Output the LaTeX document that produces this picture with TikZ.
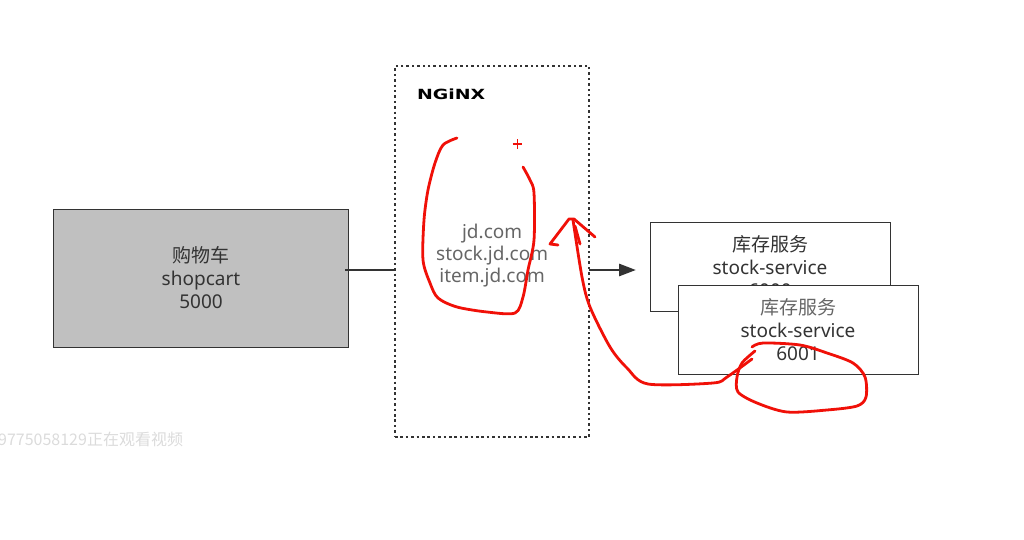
\documentclass[tikz,border=0pt]{standalone}
\usepackage{fontspec}
\setmainfont{Noto Sans}
\newfontfamily\cjk{Noto Sans CJK SC}
\newfontfamily\logofont[FakeStretch=1.35]{DejaVu Sans}
\usetikzlibrary{
  arrows.meta,
  calc,
  positioning,
}
\definecolor{inkgray}{HTML}{333333}
\definecolor{softgray}{HTML}{666666}
\definecolor{boxgray}{HTML}{C0C0C0}
\definecolor{penred}{HTML}{F01008}

\begin{document}
\begin{tikzpicture}[x=1pt, y=-1pt,
  every node/.style={outer sep=0pt, inner sep=0pt, text=inkgray, font=\fontsize{19}{23}\selectfont},
  box/.style={draw=inkgray, line width=1pt, align=center},
  stockbox/.style={box, fill=white, minimum width=240pt, minimum height=89pt},
  link/.style={draw=inkgray, line width=2.8pt},
  pen/.style={draw=penred, line width=2.8pt, line cap=round, line join=round}]
\useasboundingbox (0,0) rectangle (1024,540);

\node[box, fill=boxgray, minimum width=295pt, minimum height=138pt] (shopcart) at (201,278) {{\cjk 购物车}\\shopcart\\5000};
\node[draw=inkgray, line width=2.5pt, dash pattern=on 2.5pt off 2.9pt, minimum width=194pt, minimum height=371pt, right=46.5pt of shopcart, yshift=26.5pt] (nginx) {};
\node[stockbox, right=61pt of nginx, yshift=-15.5pt] (stock1) {{\cjk 库存服务}\\stock-service\\6000};
\node[stockbox, below right=-26pt and -212pt of stock1] (stock2) {{\cjk\color{softgray}库存服务}\\stock-service\\6001};

\node[font=\logofont\bfseries\fontsize{14}{14}\selectfont, text=black, below right=23pt and 22pt of nginx.north west] (logo) {NGiNX};
\node[align=center, text=softgray, font=\fontsize{19}{22}\selectfont, below=124pt of logo.south, xshift=41pt] (domains) {jd.com\\stock.jd.com\\item.jd.com};
\node[anchor=east, text=black!14, font=\cjk\fontsize{16}{18}\selectfont] (viewers) at (183,439) {9775058129正在观看视频};

\coordinate (cartout) at (345,270);
\coordinate (stockin) at (636,270);
\draw[link] (cartout) -- (cartout -| nginx.west);
\draw[link, -{Triangle[length=17pt, width=12pt]}] (cartout -| nginx.east) -- (stockin);

\draw[pen] plot[smooth, tension=0.5] coordinates {(457,138) (443,145) (435,163) (428,190) (424,220) (423,260) (430,283) (438,298) (457,307) (487,312) (515,313) (523,297) (528,270) (534,240) (534,193) (530,180) (523,167)};
\draw[penred, line width=1.6pt] (512.5,144) -- (522,144) (517.5,139.5) -- (517.5,149);
\draw[pen] plot[smooth, tension=0.5] coordinates {(752,359) (727,377) (713,383) (648,384) (627,368) (610,347) (590,307) (582,277) (573,220)};
\draw[pen] (558,245) -- (550,244) -- (569,219) -- (574,219) -- (595,237);
\draw[pen] (575,226) -- (580,244);
\draw[pen] plot[smooth, tension=0.5] coordinates {(755,351) (742,363) (737,377) (738,392) (757,403) (787,412) (827,410) (857,406) (866,397) (865,377) (853,363) (827,353) (800,345) (763,343) (752,347)};
\end{tikzpicture}
\end{document}
